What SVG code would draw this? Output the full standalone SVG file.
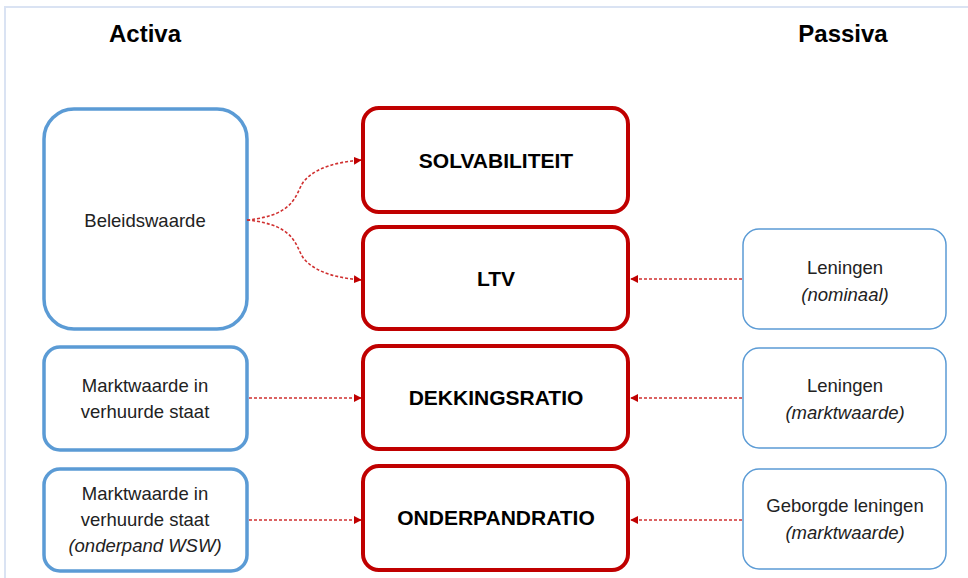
<svg xmlns="http://www.w3.org/2000/svg" width="968" height="578" viewBox="0 0 968 578">
  <style>
    .asset { fill: #fff; stroke: #5B9BD5; stroke-width: 3.5; }
    .ratio { fill: #fff; stroke: #C00000; stroke-width: 4; }
    .debt { fill: #fff; stroke: #5B9BD5; stroke-width: 1.5; }
    .head { font-family: "Liberation Sans", Arial, sans-serif; font-weight: bold; font-size: 24px; fill: #000; text-anchor: middle; }
    .lbl { font-family: "Liberation Sans", Arial, sans-serif; font-size: 18.5px; fill: #222; text-anchor: middle; }
    .it { font-style: italic; }
    .big { font-family: "Liberation Sans", Arial, sans-serif; font-weight: bold; font-size: 21px; fill: #000; text-anchor: middle; }
    .link { fill: none; stroke: #D03030; stroke-width: 1.6; stroke-dasharray: 3 2; }
  </style>
  <defs>
    <marker id="arrow" viewBox="0 0 10 10" refX="9" refY="5" markerWidth="5" markerHeight="5" orient="auto" markerUnits="strokeWidth">
      <path d="M0,0 L10,5 L0,10 z" fill="#C00000"/>
    </marker>
  </defs>

  <rect width="968" height="578" fill="#fff"/>
  <!-- frame -->
  <path d="M5,578 V7 H968" fill="none" stroke="#DAE3F3" stroke-width="2"/>

  <text class="head" x="145" y="42">Activa</text>
  <text class="head" x="843" y="42">Passiva</text>

  <!-- assets -->
  <g id="beleidswaarde">
    <rect class="asset" x="44" y="109" width="203" height="220" rx="30"/>
    <text class="lbl" x="145" y="227">Beleidswaarde</text>
  </g>
  <g id="marktwaarde">
    <rect class="asset" x="44" y="347" width="203" height="103" rx="16"/>
    <text class="lbl" x="145" y="392">Marktwaarde in</text>
    <text class="lbl" x="145" y="418">verhuurde staat</text>
  </g>
  <g id="marktwaarde-wsw">
    <rect class="asset" x="44" y="469" width="203" height="102" rx="16"/>
    <text class="lbl" x="145" y="500">Marktwaarde in</text>
    <text class="lbl" x="145" y="526">verhuurde staat</text>
    <text class="lbl it" x="145" y="552">(onderpand WSW)</text>
  </g>

  <!-- ratios -->
  <g id="solvabiliteit">
    <rect class="ratio" x="363" y="108" width="265" height="104" rx="16"/>
    <text class="big" x="496" y="168">SOLVABILITEIT</text>
  </g>
  <g id="ltv">
    <rect class="ratio" x="363" y="227" width="265" height="102" rx="16"/>
    <text class="big" x="496" y="286">LTV</text>
  </g>
  <g id="dekkingsratio">
    <rect class="ratio" x="363" y="346" width="265" height="103" rx="16"/>
    <text class="big" x="496" y="405">DEKKINGSRATIO</text>
  </g>
  <g id="onderpandratio">
    <rect class="ratio" x="363" y="466" width="265" height="104" rx="16"/>
    <text class="big" x="496" y="525">ONDERPANDRATIO</text>
  </g>

  <!-- liabilities -->
  <g id="leningen-nominaal">
    <rect class="debt" x="743" y="229" width="203" height="100" rx="16"/>
    <text class="lbl" x="845" y="274">Leningen</text>
    <text class="lbl it" x="845" y="301">(nominaal)</text>
  </g>
  <g id="leningen-markt">
    <rect class="debt" x="743" y="348" width="203" height="100" rx="16"/>
    <text class="lbl" x="845" y="392">Leningen</text>
    <text class="lbl it" x="845" y="419">(marktwaarde)</text>
  </g>
  <g id="geborgde-leningen">
    <rect class="debt" x="743" y="469" width="203" height="100" rx="16"/>
    <text class="lbl" x="845" y="512">Geborgde leningen</text>
    <text class="lbl it" x="845" y="539">(marktwaarde)</text>
  </g>

  <!-- connectors -->
  <g id="connectors">
    <path class="link" marker-end="url(#arrow)" d="M247,220 C300,215 295,190 305,180 C318,166 340,162 361,160"/>
    <path class="link" marker-end="url(#arrow)" d="M247,220 C300,225 295,250 305,260 C318,274 340,278 361,280"/>
    <path class="link" marker-end="url(#arrow)" d="M249,398 H361"/>
    <path class="link" marker-end="url(#arrow)" d="M249,520 H361"/>
    <path class="link" marker-end="url(#arrow)" d="M742,279 H631"/>
    <path class="link" marker-end="url(#arrow)" d="M742,398 H631"/>
    <path class="link" marker-end="url(#arrow)" d="M742,520 H631"/>
  </g>
</svg>
